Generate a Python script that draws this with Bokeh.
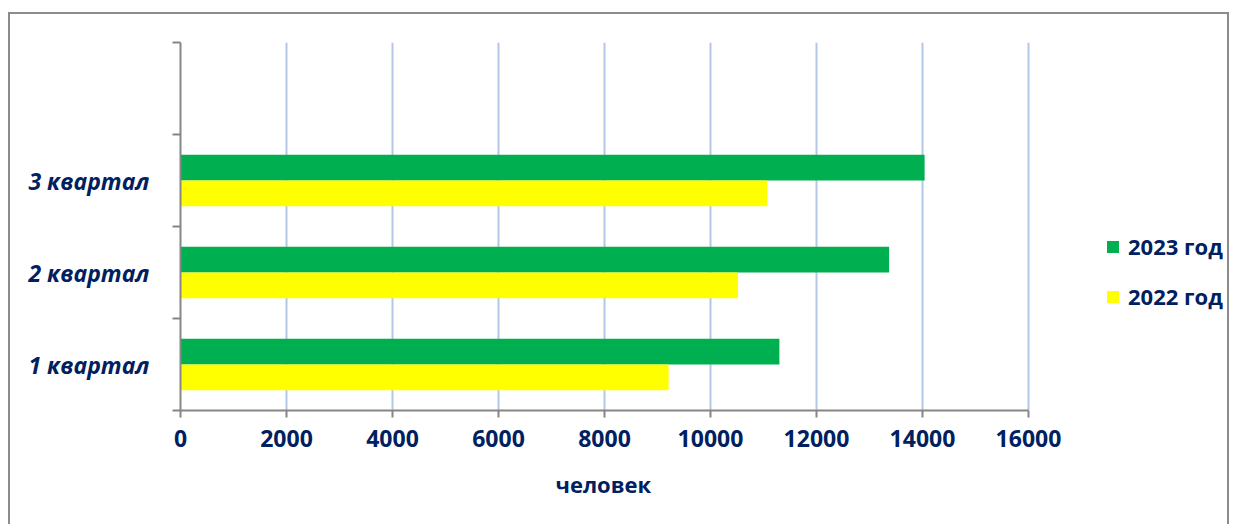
from bokeh.plotting import figure
from bokeh.models import Range1d, FixedTicker, Legend, LegendItem, ColumnDataSource, Title
from bokeh.transform import dodge
from bokeh.embed import file_html
from bokeh.resources import INLINE

categories = ["1 квартал", "2 квартал", "3 квартал"]
series_names = ["2023 год", "2022 год"]
values_2023 = [11300, 13370, 14040]
values_2022 = [9210, 10520, 11070]
x_ticks = [0, 2000, 4000, 6000, 8000, 10000, 12000, 14000, 16000]
x_title = "человек"

TEXT = "#002060"
AXIS = "#868686"
GREEN = "#00B050"
YELLOW = "#FFFF00"
FONT = "Open Sans"

# layout: the frame extends to the right edge so the legend can sit inside it;
# the axis is bounded to 0..16000, which occupies 848 px of the frame
W, H = 1221, 512
BL, BR, BT, BB = 170, 0, 28, 116
frame_w = W - BL - BR
axis_px = 848
x_max = x_ticks[-1] * frame_w / axis_px

positions = [i + 0.5 for i in range(len(categories))]
src = ColumnDataSource(dict(pos=positions, cat=categories, v23=values_2023, v22=values_2022))

p = figure(width=W, height=H, output_backend="svg", toolbar_location=None,
           x_range=Range1d(0, x_max), y_range=Range1d(0, 4),
           min_border_left=BL, min_border_right=BR, min_border_top=BT, min_border_bottom=BB)
p.styles = {"border-top": "2px solid #8c8c8c", "border-left": "2px solid #8c8c8c",
            "border-right": "2px solid #8c8c8c", "margin-top": "12px", "margin-left": "8px"}
p.outline_line_color = None
p.background_fill_color = "white"

r23 = p.hbar(y=dodge("pos", 0.14), height=0.28, left=0, right="v23", source=src,
             fill_color=GREEN, line_color=None)
r22 = p.hbar(y=dodge("pos", -0.14), height=0.28, left=0, right="v22", source=src,
             fill_color=YELLOW, line_color=None)

# x axis
xa = p.xaxis[0]
xa.bounds = (x_ticks[0], x_ticks[-1])
xa.ticker = FixedTicker(ticks=x_ticks)
xa.axis_line_color = AXIS
xa.axis_line_width = 2
xa.major_tick_line_color = AXIS
xa.major_tick_line_width = 2
xa.major_tick_out = 7
xa.major_tick_in = 0
xa.minor_tick_line_color = None
xa.major_label_text_font = FONT
xa.major_label_text_font_style = "bold"
xa.major_label_text_font_size = "23px"
xa.major_label_text_color = TEXT
xa.major_label_standoff = 12

# axis title, placed under the bounded part of the axis
t = Title(text=x_title, align="left", offset=375, standoff=23,
          padding=dict(left=0, right=0, top=6, bottom=0),
          text_font=FONT, text_font_style="bold", text_font_size="22px", text_color=TEXT)
p.add_layout(t, "below")

# y axis
ya = p.yaxis[0]
ya.ticker = FixedTicker(ticks=positions, minor_ticks=[0, 1, 2, 3, 4])
ya.major_label_overrides = {pos: c for pos, c in zip(positions, categories)}
ya.axis_line_color = AXIS
ya.axis_line_width = 2
ya.major_tick_line_color = None
ya.major_tick_out = 0
ya.major_tick_in = 0
ya.minor_tick_line_color = AXIS
ya.minor_tick_line_width = 2
ya.minor_tick_out = 8
ya.minor_tick_in = 0
ya.major_label_text_font = FONT
ya.major_label_text_font_style = "bold italic"
ya.major_label_text_font_size = "23px"
ya.major_label_text_color = TEXT
ya.major_label_standoff = 23

p.xgrid.grid_line_color = "#B4C7E7"
p.xgrid.grid_line_width = 2
p.ygrid.grid_line_color = None

legend = Legend(items=[LegendItem(label=series_names[0], renderers=[r23]),
                       LegendItem(label=series_names[1], renderers=[r22])],
                location=(925, 99), orientation="vertical",
                glyph_width=15, glyph_height=15, label_standoff=8, spacing=20,
                padding=0, margin=0, border_line_color=None, background_fill_alpha=0,
                label_text_font=FONT, label_text_font_style="bold",
                label_text_font_size="22px", label_text_color=TEXT)
p.add_layout(legend, "center")

open("out.html", "w").write(file_html(p, INLINE))
